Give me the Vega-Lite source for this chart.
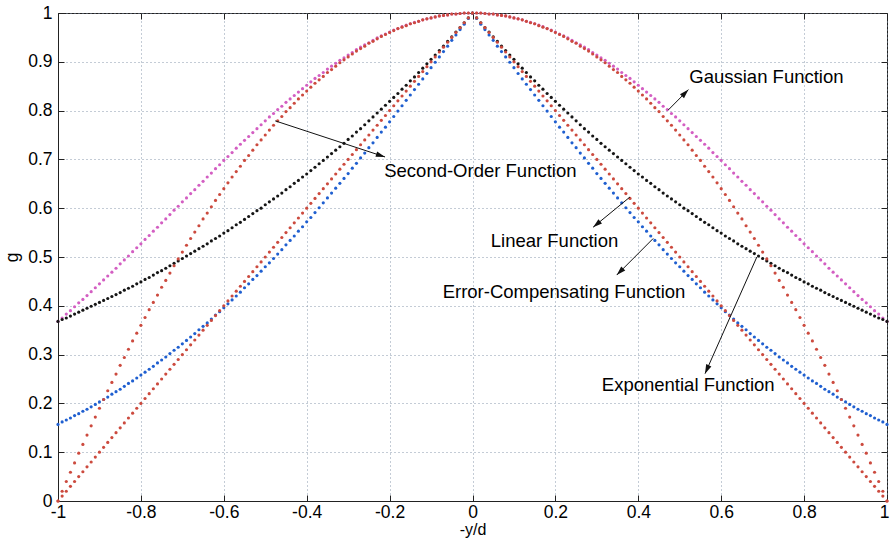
{
  "$schema": "https://vega.github.io/schema/vega-lite/v6.json",
  "autosize": "none",
  "width": 829,
  "height": 488,
  "padding": {"left": 58, "top": 13, "right": 3, "bottom": 39},
  "background": "white",
  "config": {"view": {"stroke": "#222222", "strokeWidth": 1}, "font": "Liberation Sans"},
  "datasets": {
    "curves": [
{"x":-1,"ga":0.368,"so":0,"li":0,"ex":0.368,"ec":0.157},
{"x":-0.99,"ga":0.375,"so":0.02,"li":0.01,"ex":0.372,"ec":0.162},
{"x":-0.98,"ga":0.383,"so":0.04,"li":0.02,"ex":0.375,"ec":0.166},
{"x":-0.97,"ga":0.39,"so":0.059,"li":0.03,"ex":0.379,"ec":0.17},
{"x":-0.96,"ga":0.398,"so":0.078,"li":0.04,"ex":0.383,"ec":0.175},
{"x":-0.95,"ga":0.406,"so":0.098,"li":0.05,"ex":0.387,"ec":0.179},
{"x":-0.94,"ga":0.413,"so":0.116,"li":0.06,"ex":0.391,"ec":0.184},
{"x":-0.93,"ga":0.421,"so":0.135,"li":0.07,"ex":0.395,"ec":0.188},
{"x":-0.92,"ga":0.429,"so":0.154,"li":0.08,"ex":0.399,"ec":0.193},
{"x":-0.91,"ga":0.437,"so":0.172,"li":0.09,"ex":0.403,"ec":0.198},
{"x":-0.9,"ga":0.445,"so":0.19,"li":0.1,"ex":0.407,"ec":0.203},
{"x":-0.89,"ga":0.453,"so":0.208,"li":0.11,"ex":0.411,"ec":0.208},
{"x":-0.88,"ga":0.461,"so":0.226,"li":0.12,"ex":0.415,"ec":0.213},
{"x":-0.87,"ga":0.469,"so":0.243,"li":0.13,"ex":0.419,"ec":0.219},
{"x":-0.86,"ga":0.477,"so":0.26,"li":0.14,"ex":0.423,"ec":0.224},
{"x":-0.85,"ga":0.486,"so":0.278,"li":0.15,"ex":0.427,"ec":0.229},
{"x":-0.84,"ga":0.494,"so":0.294,"li":0.16,"ex":0.432,"ec":0.235},
{"x":-0.83,"ga":0.502,"so":0.311,"li":0.17,"ex":0.436,"ec":0.241},
{"x":-0.82,"ga":0.511,"so":0.328,"li":0.18,"ex":0.44,"ec":0.246},
{"x":-0.81,"ga":0.519,"so":0.344,"li":0.19,"ex":0.445,"ec":0.252},
{"x":-0.8,"ga":0.527,"so":0.36,"li":0.2,"ex":0.449,"ec":0.258},
{"x":-0.79,"ga":0.536,"so":0.376,"li":0.21,"ex":0.454,"ec":0.264},
{"x":-0.78,"ga":0.544,"so":0.392,"li":0.22,"ex":0.458,"ec":0.27},
{"x":-0.77,"ga":0.553,"so":0.407,"li":0.23,"ex":0.463,"ec":0.276},
{"x":-0.76,"ga":0.561,"so":0.422,"li":0.24,"ex":0.468,"ec":0.283},
{"x":-0.75,"ga":0.57,"so":0.438,"li":0.25,"ex":0.472,"ec":0.289},
{"x":-0.74,"ga":0.578,"so":0.452,"li":0.26,"ex":0.477,"ec":0.295},
{"x":-0.73,"ga":0.587,"so":0.467,"li":0.27,"ex":0.482,"ec":0.302},
{"x":-0.72,"ga":0.596,"so":0.482,"li":0.28,"ex":0.487,"ec":0.309},
{"x":-0.71,"ga":0.604,"so":0.496,"li":0.29,"ex":0.492,"ec":0.315},
{"x":-0.7,"ga":0.613,"so":0.51,"li":0.3,"ex":0.497,"ec":0.322},
{"x":-0.69,"ga":0.621,"so":0.524,"li":0.31,"ex":0.502,"ec":0.329},
{"x":-0.68,"ga":0.63,"so":0.538,"li":0.32,"ex":0.507,"ec":0.336},
{"x":-0.67,"ga":0.638,"so":0.551,"li":0.33,"ex":0.512,"ec":0.343},
{"x":-0.66,"ga":0.647,"so":0.564,"li":0.34,"ex":0.517,"ec":0.351},
{"x":-0.65,"ga":0.655,"so":0.578,"li":0.35,"ex":0.522,"ec":0.358},
{"x":-0.64,"ga":0.664,"so":0.59,"li":0.36,"ex":0.527,"ec":0.365},
{"x":-0.63,"ga":0.672,"so":0.603,"li":0.37,"ex":0.533,"ec":0.373},
{"x":-0.62,"ga":0.681,"so":0.616,"li":0.38,"ex":0.538,"ec":0.381},
{"x":-0.61,"ga":0.689,"so":0.628,"li":0.39,"ex":0.543,"ec":0.388},
{"x":-0.6,"ga":0.698,"so":0.64,"li":0.4,"ex":0.549,"ec":0.396},
{"x":-0.59,"ga":0.706,"so":0.652,"li":0.41,"ex":0.554,"ec":0.404},
{"x":-0.58,"ga":0.714,"so":0.664,"li":0.42,"ex":0.56,"ec":0.412},
{"x":-0.57,"ga":0.723,"so":0.675,"li":0.43,"ex":0.566,"ec":0.42},
{"x":-0.56,"ga":0.731,"so":0.686,"li":0.44,"ex":0.571,"ec":0.428},
{"x":-0.55,"ga":0.739,"so":0.698,"li":0.45,"ex":0.577,"ec":0.437},
{"x":-0.54,"ga":0.747,"so":0.708,"li":0.46,"ex":0.583,"ec":0.445},
{"x":-0.53,"ga":0.755,"so":0.719,"li":0.47,"ex":0.589,"ec":0.454},
{"x":-0.52,"ga":0.763,"so":0.73,"li":0.48,"ex":0.595,"ec":0.462},
{"x":-0.51,"ga":0.771,"so":0.74,"li":0.49,"ex":0.6,"ec":0.471},
{"x":-0.5,"ga":0.779,"so":0.75,"li":0.5,"ex":0.607,"ec":0.48},
{"x":-0.49,"ga":0.787,"so":0.76,"li":0.51,"ex":0.613,"ec":0.488},
{"x":-0.48,"ga":0.794,"so":0.77,"li":0.52,"ex":0.619,"ec":0.497},
{"x":-0.47,"ga":0.802,"so":0.779,"li":0.53,"ex":0.625,"ec":0.506},
{"x":-0.46,"ga":0.809,"so":0.788,"li":0.54,"ex":0.631,"ec":0.515},
{"x":-0.45,"ga":0.817,"so":0.798,"li":0.55,"ex":0.638,"ec":0.525},
{"x":-0.44,"ga":0.824,"so":0.806,"li":0.56,"ex":0.644,"ec":0.534},
{"x":-0.43,"ga":0.831,"so":0.815,"li":0.57,"ex":0.651,"ec":0.543},
{"x":-0.42,"ga":0.838,"so":0.824,"li":0.58,"ex":0.657,"ec":0.553},
{"x":-0.41,"ga":0.845,"so":0.832,"li":0.59,"ex":0.664,"ec":0.562},
{"x":-0.4,"ga":0.852,"so":0.84,"li":0.6,"ex":0.67,"ec":0.572},
{"x":-0.39,"ga":0.859,"so":0.848,"li":0.61,"ex":0.677,"ec":0.581},
{"x":-0.38,"ga":0.866,"so":0.856,"li":0.62,"ex":0.684,"ec":0.591},
{"x":-0.37,"ga":0.872,"so":0.863,"li":0.63,"ex":0.691,"ec":0.601},
{"x":-0.36,"ga":0.878,"so":0.87,"li":0.64,"ex":0.698,"ec":0.611},
{"x":-0.35,"ga":0.885,"so":0.878,"li":0.65,"ex":0.705,"ec":0.621},
{"x":-0.34,"ga":0.891,"so":0.884,"li":0.66,"ex":0.712,"ec":0.631},
{"x":-0.33,"ga":0.897,"so":0.891,"li":0.67,"ex":0.719,"ec":0.641},
{"x":-0.32,"ga":0.903,"so":0.898,"li":0.68,"ex":0.726,"ec":0.651},
{"x":-0.31,"ga":0.908,"so":0.904,"li":0.69,"ex":0.733,"ec":0.661},
{"x":-0.3,"ga":0.914,"so":0.91,"li":0.7,"ex":0.741,"ec":0.671},
{"x":-0.29,"ga":0.919,"so":0.916,"li":0.71,"ex":0.748,"ec":0.682},
{"x":-0.28,"ga":0.925,"so":0.922,"li":0.72,"ex":0.756,"ec":0.692},
{"x":-0.27,"ga":0.93,"so":0.927,"li":0.73,"ex":0.763,"ec":0.703},
{"x":-0.26,"ga":0.935,"so":0.932,"li":0.74,"ex":0.771,"ec":0.713},
{"x":-0.25,"ga":0.939,"so":0.938,"li":0.75,"ex":0.779,"ec":0.724},
{"x":-0.24,"ga":0.944,"so":0.942,"li":0.76,"ex":0.787,"ec":0.734},
{"x":-0.23,"ga":0.949,"so":0.947,"li":0.77,"ex":0.795,"ec":0.745},
{"x":-0.22,"ga":0.953,"so":0.952,"li":0.78,"ex":0.803,"ec":0.756},
{"x":-0.21,"ga":0.957,"so":0.956,"li":0.79,"ex":0.811,"ec":0.766},
{"x":-0.2,"ga":0.961,"so":0.96,"li":0.8,"ex":0.819,"ec":0.777},
{"x":-0.19,"ga":0.965,"so":0.964,"li":0.81,"ex":0.827,"ec":0.788},
{"x":-0.18,"ga":0.968,"so":0.968,"li":0.82,"ex":0.835,"ec":0.799},
{"x":-0.17,"ga":0.972,"so":0.971,"li":0.83,"ex":0.844,"ec":0.81},
{"x":-0.16,"ga":0.975,"so":0.974,"li":0.84,"ex":0.852,"ec":0.821},
{"x":-0.15,"ga":0.978,"so":0.978,"li":0.85,"ex":0.861,"ec":0.832},
{"x":-0.14,"ga":0.981,"so":0.98,"li":0.86,"ex":0.869,"ec":0.843},
{"x":-0.13,"ga":0.983,"so":0.983,"li":0.87,"ex":0.878,"ec":0.854},
{"x":-0.12,"ga":0.986,"so":0.986,"li":0.88,"ex":0.887,"ec":0.865},
{"x":-0.11,"ga":0.988,"so":0.988,"li":0.89,"ex":0.896,"ec":0.876},
{"x":-0.1,"ga":0.99,"so":0.99,"li":0.9,"ex":0.905,"ec":0.888},
{"x":-0.09,"ga":0.992,"so":0.992,"li":0.91,"ex":0.914,"ec":0.899},
{"x":-0.08,"ga":0.994,"so":0.994,"li":0.92,"ex":0.923,"ec":0.91},
{"x":-0.07,"ga":0.995,"so":0.995,"li":0.93,"ex":0.932,"ec":0.921},
{"x":-0.06,"ga":0.996,"so":0.996,"li":0.94,"ex":0.942,"ec":0.932},
{"x":-0.05,"ga":0.998,"so":0.998,"li":0.95,"ex":0.951,"ec":0.944},
{"x":-0.04,"ga":0.998,"so":0.998,"li":0.96,"ex":0.961,"ec":0.955},
{"x":-0.03,"ga":0.999,"so":0.999,"li":0.97,"ex":0.97,"ec":0.966},
{"x":-0.02,"ga":1,"so":1,"li":0.98,"ex":0.98,"ec":0.977},
{"x":-0.01,"ga":1,"so":1,"li":0.99,"ex":0.99,"ec":0.989},
{"x":0,"ga":1,"so":1,"li":1,"ex":1,"ec":1},
{"x":0.01,"ga":1,"so":1,"li":0.99,"ex":0.99,"ec":0.989},
{"x":0.02,"ga":1,"so":1,"li":0.98,"ex":0.98,"ec":0.977},
{"x":0.03,"ga":0.999,"so":0.999,"li":0.97,"ex":0.97,"ec":0.966},
{"x":0.04,"ga":0.998,"so":0.998,"li":0.96,"ex":0.961,"ec":0.955},
{"x":0.05,"ga":0.998,"so":0.998,"li":0.95,"ex":0.951,"ec":0.944},
{"x":0.06,"ga":0.996,"so":0.996,"li":0.94,"ex":0.942,"ec":0.932},
{"x":0.07,"ga":0.995,"so":0.995,"li":0.93,"ex":0.932,"ec":0.921},
{"x":0.08,"ga":0.994,"so":0.994,"li":0.92,"ex":0.923,"ec":0.91},
{"x":0.09,"ga":0.992,"so":0.992,"li":0.91,"ex":0.914,"ec":0.899},
{"x":0.1,"ga":0.99,"so":0.99,"li":0.9,"ex":0.905,"ec":0.888},
{"x":0.11,"ga":0.988,"so":0.988,"li":0.89,"ex":0.896,"ec":0.876},
{"x":0.12,"ga":0.986,"so":0.986,"li":0.88,"ex":0.887,"ec":0.865},
{"x":0.13,"ga":0.983,"so":0.983,"li":0.87,"ex":0.878,"ec":0.854},
{"x":0.14,"ga":0.981,"so":0.98,"li":0.86,"ex":0.869,"ec":0.843},
{"x":0.15,"ga":0.978,"so":0.978,"li":0.85,"ex":0.861,"ec":0.832},
{"x":0.16,"ga":0.975,"so":0.974,"li":0.84,"ex":0.852,"ec":0.821},
{"x":0.17,"ga":0.972,"so":0.971,"li":0.83,"ex":0.844,"ec":0.81},
{"x":0.18,"ga":0.968,"so":0.968,"li":0.82,"ex":0.835,"ec":0.799},
{"x":0.19,"ga":0.965,"so":0.964,"li":0.81,"ex":0.827,"ec":0.788},
{"x":0.2,"ga":0.961,"so":0.96,"li":0.8,"ex":0.819,"ec":0.777},
{"x":0.21,"ga":0.957,"so":0.956,"li":0.79,"ex":0.811,"ec":0.766},
{"x":0.22,"ga":0.953,"so":0.952,"li":0.78,"ex":0.803,"ec":0.756},
{"x":0.23,"ga":0.949,"so":0.947,"li":0.77,"ex":0.795,"ec":0.745},
{"x":0.24,"ga":0.944,"so":0.942,"li":0.76,"ex":0.787,"ec":0.734},
{"x":0.25,"ga":0.939,"so":0.938,"li":0.75,"ex":0.779,"ec":0.724},
{"x":0.26,"ga":0.935,"so":0.932,"li":0.74,"ex":0.771,"ec":0.713},
{"x":0.27,"ga":0.93,"so":0.927,"li":0.73,"ex":0.763,"ec":0.703},
{"x":0.28,"ga":0.925,"so":0.922,"li":0.72,"ex":0.756,"ec":0.692},
{"x":0.29,"ga":0.919,"so":0.916,"li":0.71,"ex":0.748,"ec":0.682},
{"x":0.3,"ga":0.914,"so":0.91,"li":0.7,"ex":0.741,"ec":0.671},
{"x":0.31,"ga":0.908,"so":0.904,"li":0.69,"ex":0.733,"ec":0.661},
{"x":0.32,"ga":0.903,"so":0.898,"li":0.68,"ex":0.726,"ec":0.651},
{"x":0.33,"ga":0.897,"so":0.891,"li":0.67,"ex":0.719,"ec":0.641},
{"x":0.34,"ga":0.891,"so":0.884,"li":0.66,"ex":0.712,"ec":0.631},
{"x":0.35,"ga":0.885,"so":0.878,"li":0.65,"ex":0.705,"ec":0.621},
{"x":0.36,"ga":0.878,"so":0.87,"li":0.64,"ex":0.698,"ec":0.611},
{"x":0.37,"ga":0.872,"so":0.863,"li":0.63,"ex":0.691,"ec":0.601},
{"x":0.38,"ga":0.866,"so":0.856,"li":0.62,"ex":0.684,"ec":0.591},
{"x":0.39,"ga":0.859,"so":0.848,"li":0.61,"ex":0.677,"ec":0.581},
{"x":0.4,"ga":0.852,"so":0.84,"li":0.6,"ex":0.67,"ec":0.572},
{"x":0.41,"ga":0.845,"so":0.832,"li":0.59,"ex":0.664,"ec":0.562},
{"x":0.42,"ga":0.838,"so":0.824,"li":0.58,"ex":0.657,"ec":0.553},
{"x":0.43,"ga":0.831,"so":0.815,"li":0.57,"ex":0.651,"ec":0.543},
{"x":0.44,"ga":0.824,"so":0.806,"li":0.56,"ex":0.644,"ec":0.534},
{"x":0.45,"ga":0.817,"so":0.798,"li":0.55,"ex":0.638,"ec":0.525},
{"x":0.46,"ga":0.809,"so":0.788,"li":0.54,"ex":0.631,"ec":0.515},
{"x":0.47,"ga":0.802,"so":0.779,"li":0.53,"ex":0.625,"ec":0.506},
{"x":0.48,"ga":0.794,"so":0.77,"li":0.52,"ex":0.619,"ec":0.497},
{"x":0.49,"ga":0.787,"so":0.76,"li":0.51,"ex":0.613,"ec":0.488},
{"x":0.5,"ga":0.779,"so":0.75,"li":0.5,"ex":0.607,"ec":0.48},
{"x":0.51,"ga":0.771,"so":0.74,"li":0.49,"ex":0.6,"ec":0.471},
{"x":0.52,"ga":0.763,"so":0.73,"li":0.48,"ex":0.595,"ec":0.462},
{"x":0.53,"ga":0.755,"so":0.719,"li":0.47,"ex":0.589,"ec":0.454},
{"x":0.54,"ga":0.747,"so":0.708,"li":0.46,"ex":0.583,"ec":0.445},
{"x":0.55,"ga":0.739,"so":0.698,"li":0.45,"ex":0.577,"ec":0.437},
{"x":0.56,"ga":0.731,"so":0.686,"li":0.44,"ex":0.571,"ec":0.428},
{"x":0.57,"ga":0.723,"so":0.675,"li":0.43,"ex":0.566,"ec":0.42},
{"x":0.58,"ga":0.714,"so":0.664,"li":0.42,"ex":0.56,"ec":0.412},
{"x":0.59,"ga":0.706,"so":0.652,"li":0.41,"ex":0.554,"ec":0.404},
{"x":0.6,"ga":0.698,"so":0.64,"li":0.4,"ex":0.549,"ec":0.396},
{"x":0.61,"ga":0.689,"so":0.628,"li":0.39,"ex":0.543,"ec":0.388},
{"x":0.62,"ga":0.681,"so":0.616,"li":0.38,"ex":0.538,"ec":0.381},
{"x":0.63,"ga":0.672,"so":0.603,"li":0.37,"ex":0.533,"ec":0.373},
{"x":0.64,"ga":0.664,"so":0.59,"li":0.36,"ex":0.527,"ec":0.365},
{"x":0.65,"ga":0.655,"so":0.578,"li":0.35,"ex":0.522,"ec":0.358},
{"x":0.66,"ga":0.647,"so":0.564,"li":0.34,"ex":0.517,"ec":0.351},
{"x":0.67,"ga":0.638,"so":0.551,"li":0.33,"ex":0.512,"ec":0.343},
{"x":0.68,"ga":0.63,"so":0.538,"li":0.32,"ex":0.507,"ec":0.336},
{"x":0.69,"ga":0.621,"so":0.524,"li":0.31,"ex":0.502,"ec":0.329},
{"x":0.7,"ga":0.613,"so":0.51,"li":0.3,"ex":0.497,"ec":0.322},
{"x":0.71,"ga":0.604,"so":0.496,"li":0.29,"ex":0.492,"ec":0.315},
{"x":0.72,"ga":0.596,"so":0.482,"li":0.28,"ex":0.487,"ec":0.309},
{"x":0.73,"ga":0.587,"so":0.467,"li":0.27,"ex":0.482,"ec":0.302},
{"x":0.74,"ga":0.578,"so":0.452,"li":0.26,"ex":0.477,"ec":0.295},
{"x":0.75,"ga":0.57,"so":0.438,"li":0.25,"ex":0.472,"ec":0.289},
{"x":0.76,"ga":0.561,"so":0.422,"li":0.24,"ex":0.468,"ec":0.283},
{"x":0.77,"ga":0.553,"so":0.407,"li":0.23,"ex":0.463,"ec":0.276},
{"x":0.78,"ga":0.544,"so":0.392,"li":0.22,"ex":0.458,"ec":0.27},
{"x":0.79,"ga":0.536,"so":0.376,"li":0.21,"ex":0.454,"ec":0.264},
{"x":0.8,"ga":0.527,"so":0.36,"li":0.2,"ex":0.449,"ec":0.258},
{"x":0.81,"ga":0.519,"so":0.344,"li":0.19,"ex":0.445,"ec":0.252},
{"x":0.82,"ga":0.511,"so":0.328,"li":0.18,"ex":0.44,"ec":0.246},
{"x":0.83,"ga":0.502,"so":0.311,"li":0.17,"ex":0.436,"ec":0.241},
{"x":0.84,"ga":0.494,"so":0.294,"li":0.16,"ex":0.432,"ec":0.235},
{"x":0.85,"ga":0.486,"so":0.278,"li":0.15,"ex":0.427,"ec":0.229},
{"x":0.86,"ga":0.477,"so":0.26,"li":0.14,"ex":0.423,"ec":0.224},
{"x":0.87,"ga":0.469,"so":0.243,"li":0.13,"ex":0.419,"ec":0.219},
{"x":0.88,"ga":0.461,"so":0.226,"li":0.12,"ex":0.415,"ec":0.213},
{"x":0.89,"ga":0.453,"so":0.208,"li":0.11,"ex":0.411,"ec":0.208},
{"x":0.9,"ga":0.445,"so":0.19,"li":0.1,"ex":0.407,"ec":0.203},
{"x":0.91,"ga":0.437,"so":0.172,"li":0.09,"ex":0.403,"ec":0.198},
{"x":0.92,"ga":0.429,"so":0.154,"li":0.08,"ex":0.399,"ec":0.193},
{"x":0.93,"ga":0.421,"so":0.135,"li":0.07,"ex":0.395,"ec":0.188},
{"x":0.94,"ga":0.413,"so":0.116,"li":0.06,"ex":0.391,"ec":0.184},
{"x":0.95,"ga":0.406,"so":0.098,"li":0.05,"ex":0.387,"ec":0.179},
{"x":0.96,"ga":0.398,"so":0.078,"li":0.04,"ex":0.383,"ec":0.175},
{"x":0.97,"ga":0.39,"so":0.059,"li":0.03,"ex":0.379,"ec":0.17},
{"x":0.98,"ga":0.383,"so":0.04,"li":0.02,"ex":0.375,"ec":0.166},
{"x":0.99,"ga":0.375,"so":0.02,"li":0.01,"ex":0.372,"ec":0.162},
{"x":1,"ga":0.368,"so":0,"li":0,"ex":0.368,"ec":0.157}
    ],
    "notes": [
      {"label": "Gaussian Function", "x0": 0.472, "y0": 0.801, "x1": 0.521, "y1": 0.843, "tx": 0.523, "ty": 0.869},
      {"label": "Second-Order Function", "x0": -0.476, "y0": 0.779, "x1": -0.211, "y1": 0.705, "tx": -0.213, "ty": 0.676},
      {"label": "Linear Function", "x0": 0.38, "y0": 0.623, "x1": 0.291, "y1": 0.561, "tx": 0.044, "ty": 0.533},
      {"label": "Error-Compensating Function", "x0": 0.436, "y0": 0.538, "x1": 0.348, "y1": 0.463, "tx": -0.072, "ty": 0.428},
      {"label": "Exponential Function", "x0": 0.686, "y0": 0.5, "x1": 0.561, "y1": 0.261, "tx": 0.312, "ty": 0.237}
    ]
  },
  "resolve": {"axis": {"x": "independent", "y": "independent"}},
  "layer": [
    {
      "data": {"name": "curves"},
      "transform": [{"fold": ["ga", "ex", "ec", "li", "so"], "as": ["f", "g"]}],
      "mark": {"type": "point", "filled": true, "size": 10, "opacity": 1, "strokeWidth": 0},
      "encoding": {
        "x": {
          "field": "x", "type": "quantitative",
          "scale": {"domain": [-1, 1], "nice": false, "zero": false},
          "axis": {
            "orient": "bottom", "title": "-y/d",
            "values": [-1, -0.8, -0.6, -0.4, -0.2, 0, 0.2, 0.4, 0.6, 0.8, 1],
            "labelExpr": "(datum.value < 0 ? '-' : '') + format(abs(datum.value), '~g')",
            "labelFlush": false, "labelFont": "Liberation Sans", "labelFontSize": 17.5, "labelColor": "#000000", "labelPadding": 8,
            "labelOffset": {"condition": {"test": "datum.value == 1", "value": -3}, "value": 0},
            "tickSize": -6, "tickColor": "#222222", "domainColor": "#222222",
            "grid": true, "gridDash": [1, 3], "gridColor": "#7d8fa5", "gridOpacity": 0.9,
            "titleFont": "Liberation Sans", "titleFontSize": 16, "titleFontWeight": "normal", "titleColor": "#000000", "titlePadding": 1
          }
        },
        "y": {
          "field": "g", "type": "quantitative",
          "scale": {"domain": [0, 1], "nice": false, "zero": false},
          "axis": {
            "orient": "left", "title": "g",
            "values": [0, 0.1, 0.2, 0.3, 0.4, 0.5, 0.6, 0.7, 0.8, 0.9, 1],
            "format": "~g",
            "labelFlush": false, "labelFont": "Liberation Sans", "labelFontSize": 17.5, "labelColor": "#000000", "labelPadding": 12,
            "tickSize": -6, "tickColor": "#222222", "domainColor": "#222222",
            "grid": true, "gridDash": [1, 3], "gridColor": "#7d8fa5", "gridOpacity": 0.9,
            "titleFont": "Liberation Sans", "titleFontSize": 17.5, "titleFontWeight": "normal", "titleColor": "#000000", "titlePadding": 6
          }
        },
        "color": {
          "field": "f", "type": "nominal",
          "scale": {"domain": ["ga", "ex", "ec", "li", "so"], "range": ["#d35ec2", "#151515", "#1f5fd0", "#cc4a3e", "#cc4a3e"]},
          "legend": null
        }
      }
    },
    {
      "data": {"name": "notes"},
      "mark": {"type": "rule", "color": "#111111", "strokeWidth": 1},
      "encoding": {
        "x": {
          "field": "x0", "type": "quantitative",
          "scale": {"domain": [-1, 1], "nice": false, "zero": false},
          "axis": {"orient": "top", "title": null, "labels": false, "grid": false, "domain": false, "tickSize": -6, "tickColor": "#222222",
                   "values": [-1, -0.8, -0.6, -0.4, -0.2, 0, 0.2, 0.4, 0.6, 0.8, 1]}
        },
        "y": {
          "field": "y0", "type": "quantitative",
          "scale": {"domain": [0, 1], "nice": false, "zero": false},
          "axis": {"orient": "right", "title": null, "labels": false, "grid": false, "domain": false, "tickSize": -6, "tickColor": "#222222",
                   "values": [0, 0.1, 0.2, 0.3, 0.4, 0.5, 0.6, 0.7, 0.8, 0.9, 1]}
        },
        "x2": {"field": "x1"},
        "y2": {"field": "y1"}
      }
    },
    {
      "data": {"name": "notes"},
      "transform": [{"calculate": "atan2((datum.x1 - datum.x0) * 414.5, (datum.y1 - datum.y0) * 488) * 180 / PI", "as": "ang"}],
      "mark": {"type": "point", "shape": "M0,0L0.8,2.6L-0.8,2.6Z", "filled": true, "size": 50, "color": "#111111", "opacity": 1, "strokeWidth": 0},
      "encoding": {
        "x": {"field": "x1", "type": "quantitative", "scale": {"domain": [-1, 1], "nice": false, "zero": false}, "axis": null},
        "y": {"field": "y1", "type": "quantitative", "scale": {"domain": [0, 1], "nice": false, "zero": false}, "axis": null},
        "angle": {"field": "ang", "type": "quantitative", "scale": null}
      }
    },
    {
      "data": {"name": "notes"},
      "mark": {"type": "text", "align": "left", "baseline": "middle", "font": "Liberation Sans", "fontSize": 18.5, "color": "#000000"},
      "encoding": {
        "x": {"field": "tx", "type": "quantitative", "scale": {"domain": [-1, 1], "nice": false, "zero": false}, "axis": null},
        "y": {"field": "ty", "type": "quantitative", "scale": {"domain": [0, 1], "nice": false, "zero": false}, "axis": null},
        "text": {"field": "label", "type": "nominal"}
      }
    }
  ]
}
